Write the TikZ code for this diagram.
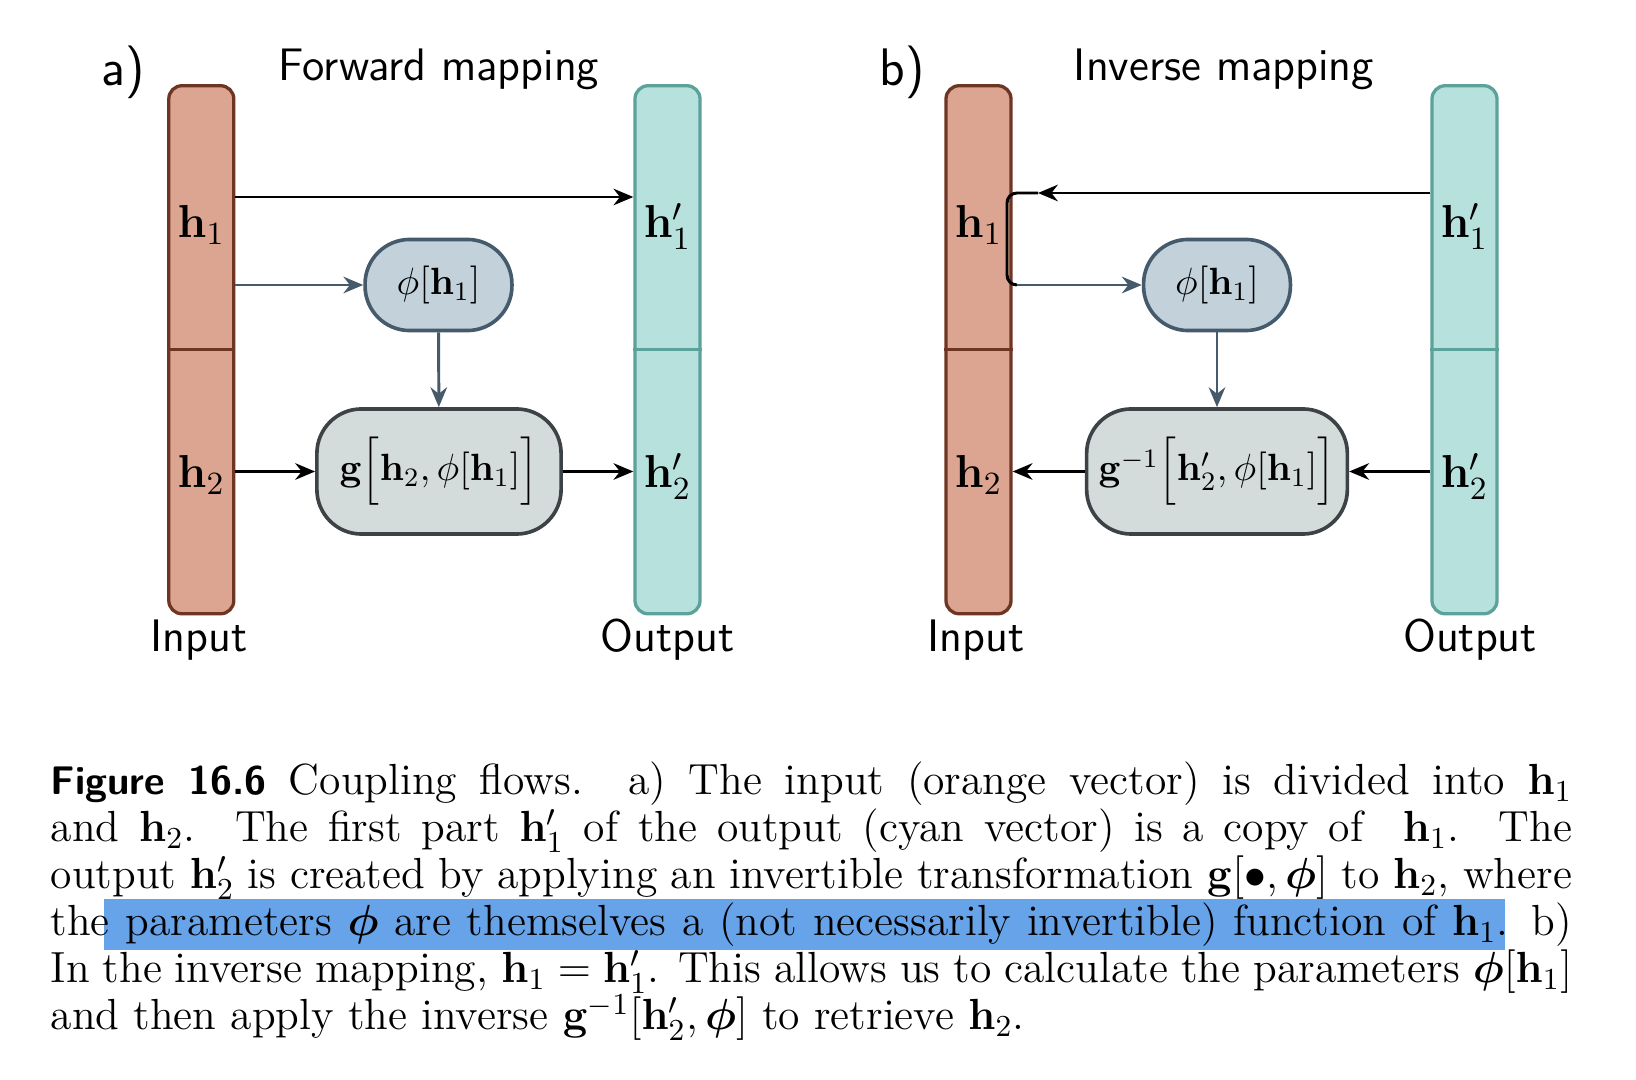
\RequirePackage{fix-cm}
\documentclass[tikz,border=0pt]{standalone}
\usepackage{amsmath,amssymb}
\usepackage{xcolor}
\usetikzlibrary{arrows.meta}
\definecolor{myorange}{RGB}{219,165,145}
\definecolor{mybrown}{RGB}{110,53,35}
\definecolor{mycyan}{RGB}{183,225,221}
\definecolor{myteal}{RGB}{91,163,154}
\definecolor{myslate}{RGB}{69,90,107}
\definecolor{myphi}{RGB}{195,209,219}
\definecolor{mygfill}{RGB}{211,219,219}
\definecolor{mygdraw}{RGB}{60,66,69}
\definecolor{myhigh}{RGB}{103,163,232}
\newcommand{\capline}[1]{\makebox[461pt][s]{\spaceskip=0pt\xspaceskip=0pt\relax #1}}
\tikzset{
  inbar/.style={draw=mybrown, fill=myorange, line width=1pt, rounded corners=4pt,
    minimum width=19.7pt, minimum height=160pt, inner sep=0pt},
  outbar/.style={inbar, draw=myteal, fill=mycyan},
  phibox/.style={draw=myslate, fill=myphi, line width=1.1pt, rounded corners=13.5pt,
    minimum width=44.5pt, minimum height=27.6pt, inner sep=0pt,
    font=\fontsize{11.5}{14}\selectfont},
  gbox/.style={draw=mygdraw, fill=mygfill, line width=1.1pt, rounded corners=13.5pt,
    minimum width=74pt, minimum height=37.9pt, inner sep=0pt,
    font=\fontsize{11.5}{14}\selectfont},
  vlabel/.style={anchor=base, inner sep=0pt, font=\fontsize{14}{16}\selectfont},
  sflabel/.style={anchor=base, inner sep=0pt, font=\sffamily\fontsize{13.8}{16}\selectfont},
  tag/.style={anchor=base, inner sep=0pt, font=\sffamily\fontsize{16}{18}\selectfont},
  arr/.style={-{Stealth[length=6pt,width=5pt]}, line width=0.9pt},
  slatearr/.style={arr, myslate},
}
\begin{document}
\begin{tikzpicture}[x=0.303pt,y=-0.303pt]
\useasboundingbox (0,0) rectangle (1636,1080);
% a) forward mapping
\node[tag] (taga) at (123,85.5) {a)};
\node[sflabel] (titlea) at (439,81) {Forward mapping};
\node[inbar] (ina) at (201.3,349.75) {};
\node[outbar] (outa) at (667.5,349.75) {};
\draw[mybrown, line width=1pt] (ina.west) -- (ina.east);
\draw[myteal, line width=1pt] (outa.west) -- (outa.east);
\node[vlabel] (h1a) at (201.3,238) {$\mathbf{h}_1$};
\node[vlabel] (h2a) at (201.3,488) {$\mathbf{h}_2$};
\node[vlabel] (h1pa) at (667.5,238) {$\mathbf{h}'_1$};
\node[vlabel] (h2pa) at (667.5,488) {$\mathbf{h}'_2$};
\node[phibox] (phia) at (438.5,285) {$\phi[\mathbf{h}_1]$};
\node[gbox] (ga) at (439,471.5) {$\mathbf{g}\Big[\mathbf{h}_2,\phi[\mathbf{h}_1]\Big]$};
\coordinate (rowa) at (0,197);
\draw[arr] (ina.east |- rowa) -- (outa.west |- rowa);
\draw[slatearr] (ina.east |- phia) -- (phia.west);
\draw[slatearr] (phia) -- (ga);
\draw[arr] (ina.east |- ga) -- (ga.west);
\draw[arr] (ga.east) -- (outa.west |- ga);
\node[sflabel] (labina) at (199,652) {Input};
\node[sflabel] (labouta) at (667.5,652) {Output};
% b) inverse mapping
\node[tag] (tagb) at (902,85.5) {b)};
\node[sflabel] (titleb) at (1224,81) {Inverse mapping};
\node[inbar] (inb) at (978.5,349.75) {};
\node[outbar] (outb) at (1464.5,349.75) {};
\draw[mybrown, line width=1pt] (inb.west) -- (inb.east);
\draw[myteal, line width=1pt] (outb.west) -- (outb.east);
\node[vlabel] (h1b) at (978.5,238) {$\mathbf{h}_1$};
\node[vlabel] (h2b) at (978.5,488) {$\mathbf{h}_2$};
\node[vlabel] (h1pb) at (1464.5,238) {$\mathbf{h}'_1$};
\node[vlabel] (h2pb) at (1464.5,488) {$\mathbf{h}'_2$};
\node[phibox] (phib) at (1217,285) {$\phi[\mathbf{h}_1]$};
\node[gbox, minimum width=79pt] (gb) at (1217,471.5) {$\mathbf{g}^{-1}\Big[\mathbf{h}'_2,\phi[\mathbf{h}_1]\Big]$};
\coordinate (rowb) at (0,193);
\coordinate (tipb) at (1038,193);
\coordinate (bendb) at (1007,193);
\coordinate (footb) at (bendb |- phib);
\draw[arr] (outb.west |- rowb) -- (tipb);
\draw[line width=0.9pt, rounded corners=3pt] (tipb) -- (bendb) -- (footb) -- ([xshift=3pt]footb);
\draw[slatearr] ([xshift=3pt]footb) -- (phib.west);
\draw[slatearr] (phib) -- (gb);
\draw[arr] (outb.west |- gb) -- (gb.east);
\draw[arr] (gb.west) -- (inb.east |- gb);
\node[sflabel] (labinb) at (976,652) {Input};
\node[sflabel] (laboutb) at (1470,652) {Output};
% caption
\fill[myhigh] (104,899) rectangle (1505,950);
\node[anchor=base west, inner sep=0pt, text width=461pt, align=justify,
  font=\fontsize{13.2}{14.24}\selectfont] (caption) at (50,795) {%
\capline{{\sffamily\bfseries\fontsize{12.1}{14}\selectfont Figure 16.6}\ Coupling flows.\ \ a) The input (orange vector) is divided into $\mathbf{h}_1$}\\
\capline{and $\mathbf{h}_2$.\ \ The first part $\mathbf{h}'_1$ of the output (cyan vector) is a copy of\ \ $\mathbf{h}_1$.\ \ The}\\
\capline{output $\mathbf{h}'_2$ is created by applying an invertible transformation $\mathbf{g}[\bullet,\boldsymbol{\phi}]$ to $\mathbf{h}_2$, where}\\
\capline{the parameters $\boldsymbol{\phi}$ are themselves a (not necessarily invertible) function of $\mathbf{h}_1$. b)}\\
\capline{In the inverse mapping, $\mathbf{h}_1=\mathbf{h}'_1$. This allows us to calculate the parameters $\boldsymbol{\phi}[\mathbf{h}_1]$}\\
and then apply the inverse $\mathbf{g}^{-1}[\mathbf{h}'_2,\boldsymbol{\phi}]$ to retrieve $\mathbf{h}_2$.};
\end{tikzpicture}
\end{document}
